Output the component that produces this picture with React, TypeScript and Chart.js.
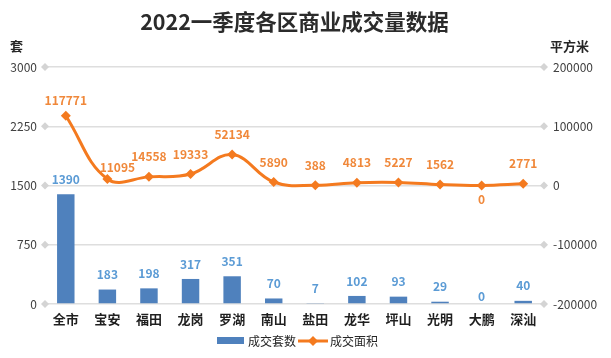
import React, { useEffect, useRef } from "react";
import { Chart, registerables } from "chart.js";

Chart.register(...registerables);

const categories = ["全市", "宝安", "福田", "龙岗", "罗湖", "南山", "盐田", "龙华", "坪山", "光明", "大鹏", "深汕"];
const dealCounts = [1390, 183, 198, 317, 351, 70, 7, 102, 93, 29, 0, 40];
const dealAreas = [117771, 11095, 14558, 19333, 52134, 5890, 388, 4813, 5227, 1562, 0, 2771];
const leftTicks = [0, 750, 1500, 2250, 3000];
const rightTicks = [-200000, -100000, 0, 100000, 200000];
const titleText = "2022一季度各区商业成交量数据";
const leftAxisTitle = "套";
const rightAxisTitle = "平方米";
const seriesNames = ["成交套数", "成交面积"];

const FONT = '"Noto Sans CJK SC", "Noto Sans", sans-serif';
const BAR_COLOR = "#4F81BD";
const BAR_LABEL = "#5B9BD5";
const LINE_COLOR = "#F47A1F";
const LINE_LABEL = "#F0883A";
const GRID = "#DEDEDE";
const DIAMOND = "#D4D4D4";

function diamond(ctx: CanvasRenderingContext2D, x: number, y: number, r: number, color: string) {
  ctx.save();
  ctx.fillStyle = color;
  ctx.beginPath();
  ctx.moveTo(x, y - r);
  ctx.lineTo(x + r, y);
  ctx.lineTo(x, y + r);
  ctx.lineTo(x - r, y);
  ctx.closePath();
  ctx.fill();
  ctx.restore();
}

const decorPlugin = {
  id: "decor",
  beforeDatasetsDraw(chart: any) {
    const ctx = chart.ctx as CanvasRenderingContext2D;
    const area = chart.chartArea;
    const yScale = chart.scales.y;
    leftTicks.forEach((t) => {
      const y = yScale.getPixelForValue(t);
      diamond(ctx, area.left, y, 4, DIAMOND);
      diamond(ctx, area.right, y, 4, DIAMOND);
    });
  },
  afterDraw(chart: any) {
    const ctx = chart.ctx as CanvasRenderingContext2D;
    const area = chart.chartArea;
    ctx.save();
    // title
    ctx.fillStyle = "#2b2b2b";
    ctx.font = `bold 21.5px ${FONT}`;
    ctx.textAlign = "center";
    ctx.textBaseline = "middle";
    ctx.fillText(titleText, (area.left + area.right) / 2, 22);
    // axis titles
    ctx.font = `bold 13px ${FONT}`;
    ctx.fillStyle = "#262626";
    ctx.textAlign = "left";
    ctx.fillText(leftAxisTitle, 10, 46);
    ctx.fillText(rightAxisTitle, 550, 46);

    // bar labels
    const barMeta = chart.getDatasetMeta(0);
    ctx.font = `bold 12px ${FONT}`;
    ctx.textAlign = "center";
    ctx.fillStyle = BAR_LABEL;
    barMeta.data.forEach((el: any, i: number) => {
      const v = dealCounts[i];
      const off = v === 0 ? 8 : 15;
      ctx.fillText(String(v), el.x, el.y - off);
    });
    // line labels
    const lineMeta = chart.getDatasetMeta(1);
    ctx.fillStyle = LINE_LABEL;
    lineMeta.data.forEach((el: any, i: number) => {
      const v = dealAreas[i];
      const dx = i === 1 ? 10 : 0;
      const dy = v === 0 ? 14 : i === 1 ? -11 : i === 0 ? -15 : -20;
      ctx.fillText(String(v), el.x + dx, el.y + dy);
    });

    // legend
    const ly = 341;
    ctx.fillStyle = BAR_COLOR;
    ctx.fillRect(217, ly - 4, 27, 7);
    ctx.font = `12px ${FONT}`;
    ctx.fillStyle = "#262626";
    ctx.textAlign = "left";
    ctx.fillText(seriesNames[0], 248, ly);
    ctx.strokeStyle = LINE_COLOR;
    ctx.lineWidth = 3;
    ctx.beginPath();
    ctx.moveTo(298, ly);
    ctx.lineTo(328, ly);
    ctx.stroke();
    diamond(ctx, 313, ly, 5, LINE_COLOR);
    ctx.fillStyle = "#262626";
    ctx.fillText(seriesNames[1], 330, ly);
    ctx.restore();
  },
};

export default function App() {
  const ref = useRef<HTMLCanvasElement>(null);
  useEffect(() => {
    if (!ref.current) return;
    const chart = new Chart(ref.current, {
      type: "bar",
      data: {
        labels: categories,
        datasets: [
          {
            type: "bar",
            label: seriesNames[0],
            data: dealCounts,
            backgroundColor: BAR_COLOR,
            yAxisID: "y",
            order: 1,
            categoryPercentage: 1,
            barPercentage: 0.42,
          },
          {
            type: "line",
            label: seriesNames[1],
            data: dealAreas,
            borderColor: LINE_COLOR,
            backgroundColor: LINE_COLOR,
            borderWidth: 3,
            tension: 0.4,
            pointStyle: "rectRot",
            pointRadius: 5,
            pointBorderWidth: 0,
            pointBackgroundColor: LINE_COLOR,
            yAxisID: "y1",
            order: 0,
          } as any,
        ],
      },
      options: {
        responsive: false,
        animation: false,
        devicePixelRatio: 1,
        layout: { padding: { top: 67, bottom: 24, left: 0, right: 0 } },
        plugins: { legend: { display: false }, title: { display: false }, tooltip: { enabled: false } },
        scales: {
          x: {
            offset: true,
            grid: { display: false, drawTicks: false },
            border: { display: false },
            ticks: { font: { family: FONT, size: 13, weight: "bold" }, color: "#1f1f1f", padding: 7 },
            afterFit: (s: any) => { s.height = 30; },
          },
          y: {
            position: "left",
            min: leftTicks[0],
            max: leftTicks[leftTicks.length - 1],
            grid: { color: GRID, lineWidth: 1.5, drawTicks: false },
            border: { display: false },
            ticks: {
              stepSize: 750,
              font: { family: FONT, size: 12 },
              color: "#404040",
              padding: 8,
              callback: (v: any) => String(v),
            },
            afterFit: (s: any) => { s.width = 45; },
          },
          y1: {
            position: "right",
            min: rightTicks[0],
            max: rightTicks[rightTicks.length - 1],
            grid: { display: false, drawTicks: false },
            border: { display: false },
            ticks: {
              stepSize: 100000,
              font: { family: FONT, size: 12 },
              color: "#404040",
              padding: 9,
              callback: (v: any) => String(v),
            },
            afterFit: (s: any) => { s.width = 67; },
          },
        },
      } as any,
      plugins: [decorPlugin],
    });
    return () => chart.destroy();
  }, []);
  return (
    <div style={{ position: "fixed", left: 0, top: 0, width: 611, height: 358, background: "#fff" }}>
      <canvas ref={ref} width={611} height={358} style={{ width: 611, height: 358 }} />
    </div>
  );
}
